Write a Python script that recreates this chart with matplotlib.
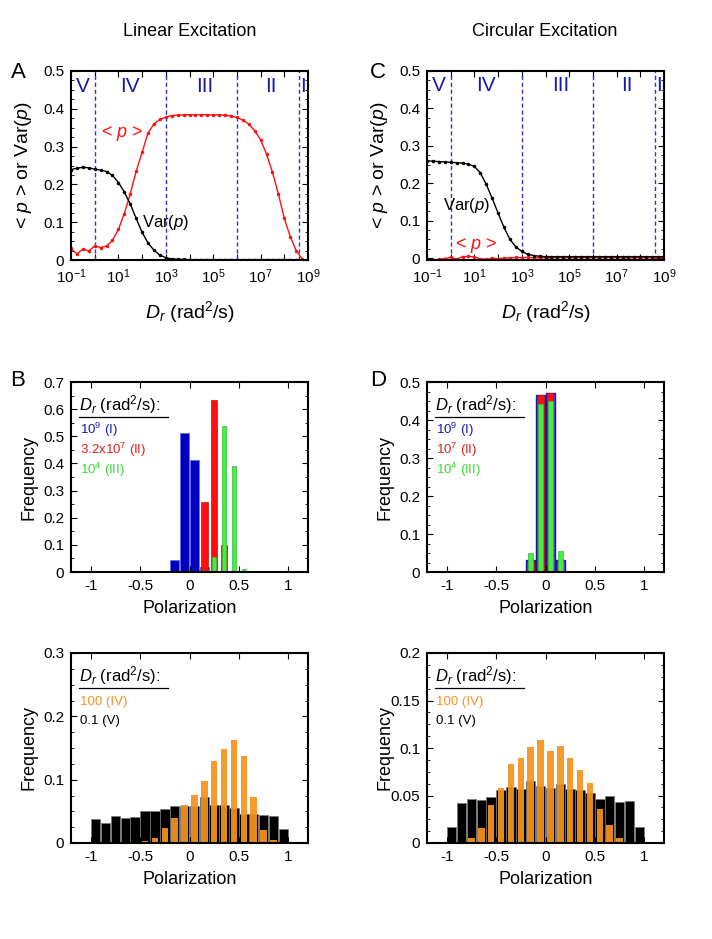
import numpy as np
import matplotlib
matplotlib.use("Agg")
import matplotlib.pyplot as plt
from matplotlib.ticker import MultipleLocator, FixedLocator, FuncFormatter, NullLocator

plt.rcParams['font.family'] = ['Liberation Sans', 'DejaVu Sans']
plt.rcParams['mathtext.fontset'] = 'custom'
plt.rcParams['mathtext.rm'] = 'Liberation Sans'
plt.rcParams['mathtext.it'] = 'Liberation Sans:italic'
plt.rcParams['axes.unicode_minus'] = False

# --- data: log10(Dr) grid, step 0.25 ---
log_dr = [-1.0, -0.75, -0.5, -0.25, 0.0, 0.25, 0.5, 0.75, 1.0, 1.25, 1.5, 1.75, 2.0, 2.25,
          2.5, 2.75, 3.0, 3.25, 3.5, 3.75, 4.0, 4.25, 4.5, 4.75, 5.0, 5.25, 5.5, 5.75, 6.0,
          6.25, 6.5, 6.75, 7.0, 7.25, 7.5, 7.75, 8.0, 8.25, 8.5, 8.75, 9.0]

lin_mean = [0.031, 0.016, 0.029, 0.024, 0.037, 0.033, 0.037, 0.052, 0.081, 0.123, 0.175,
            0.235, 0.285, 0.336, 0.360, 0.372, 0.378, 0.382, 0.383, 0.384, 0.384, 0.384,
            0.384, 0.384, 0.384, 0.384, 0.383, 0.381, 0.377, 0.370, 0.360, 0.342, 0.318,
            0.280, 0.232, 0.175, 0.110, 0.062, 0.025, 0.003]
lin_var = [0.239, 0.243, 0.245, 0.244, 0.240, 0.238, 0.234, 0.224, 0.205, 0.180, 0.148,
           0.110, 0.073, 0.045, 0.026, 0.013, 0.006, 0.003, 0.002, 0.0015, 0.001, 0.001,
           0.001, 0.001, 0.001, 0.001, 0.001, 0.001, 0.001, 0.001, 0.001, 0.001, 0.001,
           0.001, 0.001, 0.001, 0.001, 0.001, 0.0008, 0.0005, 0.0003]

circ_mean = [-0.004, -0.005, -0.003, -0.001, 0.002, -0.003, 0.004, 0.005, 0.003, -0.002,
             -0.003, 0.000, -0.002, 0.001, 0.000, 0.002, 0.001, 0.002, 0.001, 0.001, 0.001,
             0.001, 0.001, 0.001, 0.001, 0.001, 0.001, 0.001, 0.001, 0.001, 0.001, 0.001,
             0.001, 0.001, 0.001, 0.001, 0.001, 0.001, 0.001, 0.001, 0.001]
circ_var = [0.260, 0.259, 0.258, 0.257, 0.256, 0.255, 0.254, 0.251, 0.245, 0.228, 0.197,
            0.160, 0.120, 0.082, 0.050, 0.030, 0.018, 0.010, 0.007, 0.005, 0.004, 0.004,
            0.004, 0.004, 0.004, 0.004, 0.004, 0.004, 0.004, 0.004, 0.004, 0.004, 0.004,
            0.004, 0.004, 0.004, 0.004, 0.004, 0.004, 0.004, 0.004]

regime_bounds = [1e0, 1e3, 1e6, 4e8]
regime_labels = ['V', 'IV', 'III', 'II', 'I']
regime_pos = [10**-0.5, 10**1.5, 10**4.65, 10**7.45, 10**8.8]

# --- histograms ---
centers = [-0.95, -0.85, -0.75, -0.65, -0.55, -0.45, -0.35, -0.25, -0.15, -0.05,
           0.05, 0.15, 0.25, 0.35, 0.45, 0.55, 0.65, 0.75, 0.85, 0.95]

# B: linear, regimes I-III
lin_I_x = [-0.15, -0.05, 0.05, 0.15]
lin_I_y = [0.045, 0.513, 0.413, 0.018]
lin_II_x = [0.05, 0.15, 0.25, 0.35]
lin_II_y = [0.004, 0.257, 0.633, 0.100]
lin_III_x = [0.25, 0.35, 0.45, 0.55]
lin_III_y = [0.055, 0.538, 0.390, 0.012]

# D: circular, regimes I-III
circ_I_x = [-0.15, -0.05, 0.05, 0.15]
circ_I_y = [0.032, 0.465, 0.471, 0.032]
circ_II_x = [-0.15, -0.05, 0.05, 0.15]
circ_II_y = [0.030, 0.465, 0.471, 0.030]
circ_III_x = [-0.15, -0.05, 0.05, 0.15]
circ_III_y = [0.050, 0.443, 0.451, 0.054]

# E: linear, regimes IV-V
lin_V = [0.038, 0.032, 0.043, 0.040, 0.041, 0.051, 0.050, 0.053, 0.058, 0.058,
         0.058, 0.073, 0.060, 0.060, 0.055, 0.046, 0.046, 0.045, 0.042, 0.022]
lin_IV = [0.0, 0.0, 0.0, 0.0, 0.0, 0.003, 0.008, 0.024, 0.040, 0.060,
          0.076, 0.098, 0.130, 0.148, 0.162, 0.137, 0.072, 0.020, 0.005, 0.0]

# F: circular, regimes IV-V
circ_V = [0.017, 0.0425, 0.046, 0.045, 0.048, 0.056, 0.059, 0.057, 0.065, 0.060,
          0.058, 0.062, 0.057, 0.056, 0.053, 0.046, 0.049, 0.043, 0.044, 0.0165]
circ_IV = [0.0, 0.0, 0.005, 0.016, 0.040, 0.058, 0.083, 0.090, 0.101, 0.108,
           0.097, 0.1016, 0.090, 0.077, 0.063, 0.036, 0.019, 0.005, 0.0, 0.0]

BLUE = '#0000c0'
RED = '#ff1010'
GREEN = '#44ee44'
ORANGE = '#f7931e'
NAVY = '#1a1aa8'

fmt = FuncFormatter(lambda v, p: '0' if abs(v) < 1e-9 else ('%g' % v))


def style(ax):
    ax.tick_params(direction='in', top=True, right=True, labelsize=11,
                   length=4, width=0.8, which='major', pad=5)
    ax.tick_params(direction='in', top=True, right=True, length=2, width=0.6, which='minor')
    for s in ax.spines.values():
        s.set_linewidth(1.5)


def curve_panel(ax, mean, var):
    dr = 10.0 ** np.array(log_dr)
    ax.set_xscale('log')
    for b in regime_bounds:
        ax.axvline(b, color='#3333cc', ls=(0, (3, 2)), lw=1)
    ax.plot(dr[:len(mean)], mean, color=RED, lw=1, marker='.', ms=3)
    ax.plot(dr[:len(var)], var, color='black', lw=1, marker='.', ms=3)
    for lab, x in zip(regime_labels, regime_pos):
        ax.text(x, 0.46, lab, color=NAVY, fontsize=15, ha='center', va='center')
    ax.set_xlim(0.1, 1e9)
    ax.xaxis.set_major_locator(FixedLocator([10.0 ** k for k in range(-1, 10)]))
    ax.xaxis.set_major_formatter(FuncFormatter(
        lambda v, p: r'$10^{%d}$' % round(np.log10(v)) if round(np.log10(v)) % 2 else ''))
    ax.xaxis.set_minor_locator(NullLocator())
    ax.yaxis.set_major_locator(MultipleLocator(0.1))
    ax.yaxis.set_minor_locator(MultipleLocator(0.025))
    ax.yaxis.set_major_formatter(fmt)
    ax.set_ylabel(r'< $p$ > or Var($p$)', fontsize=14)
    ax.yaxis.set_label_coords(-0.155, 0.5)
    ax.set_xlabel(r'$D_r$ (rad$^2$/s)', fontsize=14)
    ax.xaxis.set_label_coords(0.5, -0.205)
    style(ax)


def legend_block(ax, entries, ys):
    ax.text(0.035, 0.882, r'$D_r$ (rad$^2$/s):', transform=ax.transAxes,
            fontsize=12, ha='left', va='center')
    ax.plot([0.035, 0.41], [0.815, 0.815], transform=ax.transAxes, color='black', lw=0.9)
    for (txt, c), y in zip(entries, ys):
        ax.text(0.04, y, txt, transform=ax.transAxes, color=c, fontsize=9.5,
                ha='left', va='center')


def hist_axes(ax, ymax, major, minor):
    ax.set_xlim(-1.2, 1.2)
    ax.set_ylim(0, ymax)
    ax.xaxis.set_major_locator(MultipleLocator(0.5))
    ax.xaxis.set_major_formatter(fmt)
    ax.yaxis.set_major_locator(MultipleLocator(major))
    ax.yaxis.set_major_formatter(fmt)
    ax.yaxis.set_minor_locator(MultipleLocator(minor))
    ax.set_xlabel('Polarization', fontsize=13)
    ax.xaxis.set_label_coords(0.5, -0.145)
    ax.set_ylabel('Frequency', fontsize=13)
    ax.yaxis.set_label_coords(-0.14, 0.5)
    style(ax)


fig = plt.figure(figsize=(7.12, 9.39), dpi=100)
W = 237 / 712
H = 190 / 939
axA = fig.add_axes([71 / 712, 1 - 260 / 939, W, 189 / 939])
axC = fig.add_axes([427 / 712, 1 - 260 / 939, W, 189 / 939])
axB = fig.add_axes([71 / 712, 1 - 572 / 939, W, H])
axD = fig.add_axes([427 / 712, 1 - 572 / 939, W, H])
axE = fig.add_axes([71 / 712, 1 - 843 / 939, W, H])
axF = fig.add_axes([427 / 712, 1 - 843 / 939, W, H])

# A / C
curve_panel(axA, lin_mean, lin_var)
axA.set_ylim(0, 0.5)
axA.text(14, 0.335, r'< $p$ >', color=RED, fontsize=13, ha='center', va='center')
axA.text(1e2, 0.1, r'Var($p$)', color='black', fontsize=12, ha='left', va='center')

curve_panel(axC, circ_mean, circ_var)
axC.set_ylim(-0.005, 0.5)
axC.text(10**-0.32, 0.14, r'Var($p$)', color='black', fontsize=12, ha='left', va='center')
axC.text(10**0.2, 0.035, r'< $p$ >', color=RED, fontsize=13, ha='left', va='center')

# B
axB.bar(lin_I_x, lin_I_y, width=0.094, color=BLUE, edgecolor='#6a6af0', lw=0.6)
axB.bar(lin_II_x, lin_II_y, width=0.065, color=RED, edgecolor='#c01010', lw=0.5)
axB.bar(lin_III_x, lin_III_y, width=0.045, color=GREEN, edgecolor='#30c030', lw=0.5)
hist_axes(axB, 0.7, 0.1, 0.05)
legend_block(axB, [(r'10$^9$ (I)', NAVY), (r'3.2x10$^7$ (II)', '#e02020'),
                   (r'10$^4$ (III)', '#33dd33')], [0.748, 0.643, 0.538])

# D
axD.bar(circ_I_x, circ_I_y, width=0.09, color='#6a3fd0', edgecolor='#1515b0', lw=1)
axD.bar(circ_II_x, circ_II_y, width=0.06, color=RED, edgecolor='#c01010', lw=0.5)
axD.bar(circ_III_x, circ_III_y, width=0.045, color=GREEN, edgecolor='#30c030', lw=0.5)
hist_axes(axD, 0.5, 0.1, 0.025)
legend_block(axD, [(r'10$^9$ (I)', NAVY), (r'10$^7$ (II)', '#e02020'),
                   (r'10$^4$ (III)', '#33dd33')], [0.748, 0.643, 0.538])

# E
axE.bar(centers, lin_V, width=0.097, color='black', edgecolor='#777777', lw=0.5)
axE.bar(centers, lin_IV, width=0.066, color=ORANGE, alpha=0.93)
hist_axes(axE, 0.3, 0.1, 0.025)
legend_block(axE, [('100 (IV)', ORANGE), ('0.1 (V)', 'black')], [0.744, 0.642])

# F
axF.bar(centers, circ_V, width=0.097, color='black', edgecolor='#777777', lw=0.5)
axF.bar(centers, circ_IV, width=0.066, color=ORANGE, alpha=0.93)
hist_axes(axF, 0.2, 0.05, 0.0125)
legend_block(axF, [('100 (IV)', ORANGE), ('0.1 (V)', 'black')], [0.744, 0.642])

# titles and panel letters
fig.text(190 / 712, 1 - 31 / 939, 'Linear Excitation', fontsize=13, ha='center', va='center')
fig.text(545 / 712, 1 - 31 / 939, 'Circular Excitation', fontsize=13, ha='center', va='center')
for lab, x, y in [('A', 18, 73), ('C', 378, 73), ('B', 18, 381), ('D', 378, 381)]:
    fig.text(x / 712, 1 - y / 939, lab, fontsize=16, ha='center', va='center')

fig.savefig('out.png', dpi=100)
